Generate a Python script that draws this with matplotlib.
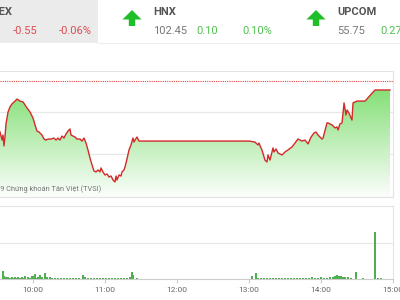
import numpy as np
import matplotlib
matplotlib.use("Agg")
import matplotlib.pyplot as plt
from matplotlib.patches import Polygon, Rectangle

plt.rcParams['font.family'] = ['Roboto', 'DejaVu Sans']

# price: minutes after 9:00 and index level
t_price = [32.5, 34.2, 35, 35.8, 36.7, 37.5, 39.2, 40.8, 42.5, 45, 46.7, 49.2, 51.7, 55,
           57.5, 60, 61.7, 63.3, 65, 67.5, 69.2, 70.8, 72.5, 75, 77.5, 79.2, 80.8, 82.5,
           84.2, 85.8, 87.5, 89.2, 90.8, 91.7, 93.3, 95, 96.7, 99.2, 100.8, 102.5, 104.2,
           105.8, 107.5, 109.2, 110.8, 112.5, 114.2, 115.8, 116.7, 118.3, 120, 121.7, 123.3,
           125, 126.7, 128.3, 129.2, 130, 131.7, 133.3, 134.2, 135.8, 136.7, 138.3, 140,
           141.7, 143.3, 144.2, 145, 146.7, 148.3, 150,
           240, 245, 245.8, 247.5, 248.3, 250, 250.8, 253.3, 255, 255.8, 257.5, 260, 260.8,
           262.5, 264.2, 267.5, 270, 272.5, 275.8, 278.3, 280.8, 284.2, 286.7, 289.2, 291.7,
           294.2, 295.8, 297.5, 300.8, 301.7, 305, 305.8, 309.2, 311.7, 313.3, 314.2, 315.8,
           317.5, 319.2, 320.8, 321.7, 323.3, 325.8, 326.7, 330, 336.7, 345, 357.5]
price = [956.31, 955.83, 956.13, 955.48, 956.07, 956.79, 957.50, 957.80, 957.98, 958.15,
         958.27, 958.15, 958.10, 957.74, 957.50, 957.14, 956.73, 956.37, 956.31, 956.13,
         955.89, 955.83, 955.89, 955.89, 955.95, 955.83, 955.95, 955.83, 956.07, 955.95,
         956.19, 956.37, 956.49, 956.13, 956.07, 956.01, 955.89, 955.89, 955.77, 955.95,
         955.65, 955.24, 954.76, 954.35, 953.99, 953.93, 954.05, 953.93, 954.17, 953.93,
         953.75, 953.81, 953.63, 953.69, 953.45, 953.33, 953.69, 953.45, 953.75, 953.69,
         953.93, 954.05, 954.23, 954.70, 955.24, 955.54, 955.95, 955.71, 955.83, 956.01,
         955.77, 955.77,
         955.77, 955.71, 955.65, 955.54, 955.65, 955.36, 955.24, 954.64, 954.52, 954.94,
         954.64, 955.36, 955.12, 955.30, 955.06, 954.94, 955.12, 955.24, 955.42, 955.65,
         955.89, 955.77, 955.83, 955.60, 956.01, 956.25, 956.31, 956.13, 955.89, 955.95,
         956.85, 956.85, 956.73, 956.55, 956.61, 956.43, 956.79, 956.85, 958.04, 957.32,
         957.62, 957.44, 957.02, 958.04, 958.15, 958.15, 958.81, 958.81]
ref_price = 959.36

# volume: minutes after 9:00 and thousand shares
t_vol_am = [35, 35.8, 37.5, 39.2, 40.8, 42.5, 44.2, 45, 46.7, 47.5,
            49.2, 50.8, 52.5, 53.3, 55.8, 57.5, 59.2, 60, 61.7, 63.3,
            64.2, 65.8, 67.5, 70, 71.7, 74.2, 75.8, 78.3, 80.8, 83.3,
            85.8, 88.3, 90.8, 93.3, 95.8, 98.3, 101.7, 103.3, 105.8, 108.3,
            110.8, 113.3, 115.8, 118.3, 120.8, 123.3, 125.8, 128.3, 130.8, 133.3,
            135.8, 138.3, 140.8, 142.5, 143.3, 146.7]
vol_am = [222, 83, 56, 42, 30, 42, 35, 56, 30, 42,
          35, 42, 30, 70, 42, 30, 97, 70, 139, 35,
          42, 111, 42, 167, 42, 56, 28, 30, 25, 28,
          25, 30, 28, 25, 30, 28, 111, 42, 28, 20,
          22, 20, 22, 20, 20, 22, 20, 20, 22, 20,
          20, 22, 56, 194, 111, 28]
t_vol_pm = [242.5, 245.8, 247.5, 250, 252.5, 255, 257.5, 260, 262.5, 265,
            267.5, 270, 272.5, 275, 277.5, 280, 282.5, 285, 287.5, 290,
            292.5, 295, 297.5, 300, 302.5, 305, 307.5, 310, 311.7, 313.3,
            315, 316.7, 318.3, 320, 322.5, 325, 329.2, 335, 345, 347.5, 350]
vol_pm = [70, 167, 28, 25, 30, 22, 35, 25, 30, 25,
          35, 28, 25, 30, 25, 35, 30, 28, 35, 30,
          42, 35, 30, 42, 35, 30, 42, 56, 83, 111,
          83, 70, 56, 42, 42, 28, 194, 14, 1306, 14, 14]

hour_ticks = [60, 120, 180, 240, 300, 360]
hour_labels = ["10:00", "11:00", "12:00", "13:00", "14:00", "15:00"]

fig = plt.figure(figsize=(4, 3), dpi=100)

# header / overlay in pixel coordinates
ov = fig.add_axes([0, 0, 1, 1], zorder=5)
ov.set_xlim(0, 400)
ov.set_ylim(300, 0)
ov.axis('off')
ov.patch.set_alpha(0)
ov.add_patch(Rectangle((-5, -5), 103, 48, color='#ebebeb', lw=0))
ov.plot([98, 400], [43, 43], color='#eeeeee', lw=0.8)

red = '#dd4b4f'
green = '#52c152'
ov.text(-38, 12, "VN-INDEX", fontsize=8, fontweight='bold', color='#555555', va='center')
ov.text(38, 31, "-0.55", fontsize=8, color=red, va='center', ha='right')
ov.text(92, 31, "-0.06%", fontsize=8, color=red, va='center', ha='right')

def arrow(cx):
    pts = [(cx, 10), (cx + 9.5, 19.5), (cx + 3.2, 19.5), (cx + 3.2, 26),
           (cx - 3.2, 26), (cx - 3.2, 19.5), (cx - 9.5, 19.5)]
    ov.add_patch(Polygon(pts, closed=True, color='#1fbf2a', lw=0))

for x0, name, val, chg, pct in [(153, "HNX", "102.45", "0.10", "0.10%"),
                                (337, "UPCOM", "55.75", "0.27", "0.49%")]:
    arrow(x0 - 21)
    ov.text(x0, 12, name, fontsize=8, fontweight='bold', color='#555555', va='center')
    ov.text(x0, 31, val, fontsize=8, color='#777777', va='center')
    ov.text(x0 + 65, 31, chg, fontsize=8, color=green, va='center', ha='right')
    ov.text(x0 + 119, 31, pct, fontsize=8, color=green, va='center', ha='right')

ov.text(101, 189, "© 2019 Chứng khoán Tân Việt (TVSI)", fontsize=5.3, color='#777777',
        va='center', ha='right')

# price chart
ax = fig.add_axes([0, 1 - 197 / 300, 393 / 400, 126 / 300])
ylo, yhi = 952.44, 959.94
ax.set_xlim(32.5, 360)
ax.set_ylim(ylo, yhi)
for s in ['top', 'right', 'bottom']:
    ax.spines[s].set_color('#e3e3e3')
ax.spines['left'].set_visible(False)
ax.set_xticks([])
ax.set_yticks([])
for g in [957.5, 955.0]:
    ax.axhline(g, color='#e8e8e8', lw=0.9, zorder=0)

poly = ax.fill_between(t_price, price, ylo, color='none', lw=0)
grad = np.linspace(0, 1, 256).reshape(-1, 1)
top_c = np.array([112, 218, 96]) / 255
bot_c = np.array([252, 254, 252]) / 255
img = top_c[None, None, :] * (1 - grad[:, :, None]) + bot_c[None, None, :] * grad[:, :, None]
im = ax.imshow(img, extent=[32.5, 360, ylo, yhi], origin='upper', aspect='auto', zorder=1)
path = poly.get_paths()[0]
im.set_clip_path(path, transform=ax.transData)

ax.plot(t_price, price, color='#d42a2a', lw=1.0, zorder=3)
ax.axhline(ref_price, color='#e04040', lw=0.8, ls=(0, (1, 1)), zorder=2)

# volume chart
vx = fig.add_axes([0, 21 / 300, 393 / 400, 73 / 300])
vx.set_xlim(32.5, 360)
vx.set_ylim(0, 2028)
vx.bar(t_vol_am + t_vol_pm, vol_am + vol_pm, width=1.0, color='#4fae4f', lw=0)
vx.axhline(1000, color='#e8e8e8', lw=0.9, zorder=0)
for s in ['top', 'right']:
    vx.spines[s].set_color('#e3e3e3')
vx.spines['bottom'].set_color('#cccccc')
vx.spines['left'].set_visible(False)
vx.set_yticks([])
vx.set_xticks(hour_ticks)
vx.set_xticklabels(hour_labels)
vx.tick_params(axis='x', length=3, color='#cccccc', labelsize=6, labelcolor='#666666', pad=3)

fig.savefig("out.png", dpi=100)
